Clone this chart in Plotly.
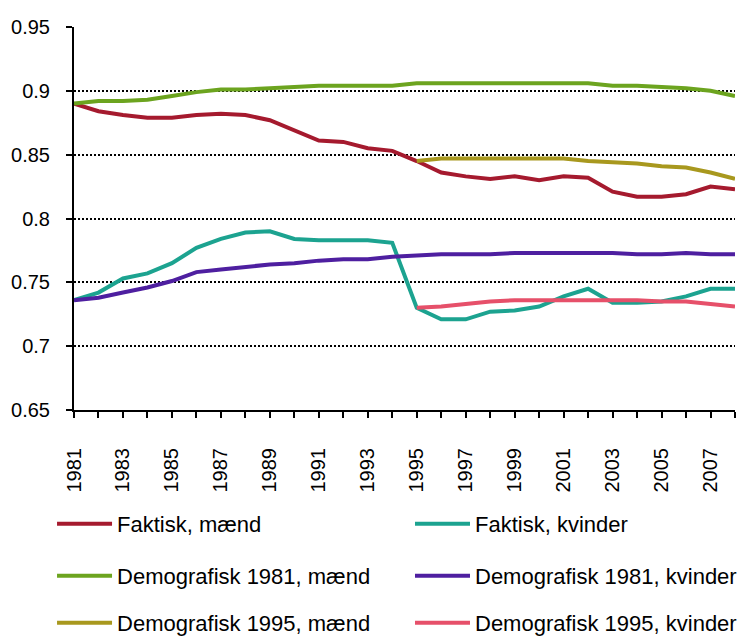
import plotly.graph_objects as go

years = list(range(1981, 2009))
years_1995 = list(range(1995, 2009))

faktisk_maend = [0.890, 0.884, 0.881, 0.879, 0.879, 0.881, 0.882, 0.881, 0.877, 0.869,
                 0.861, 0.860, 0.855, 0.853, 0.845, 0.836, 0.833, 0.831, 0.833, 0.830,
                 0.833, 0.832, 0.821, 0.817, 0.817, 0.819, 0.825, 0.823]
faktisk_kvinder = [0.736, 0.742, 0.753, 0.757, 0.765, 0.777, 0.784, 0.789, 0.790, 0.784,
                   0.783, 0.783, 0.783, 0.781, 0.730, 0.721, 0.721, 0.727, 0.728, 0.731,
                   0.739, 0.745, 0.734, 0.734, 0.735, 0.739, 0.745, 0.745]
demo1981_maend = [0.890, 0.892, 0.892, 0.893, 0.896, 0.899, 0.901, 0.901, 0.902, 0.903,
                  0.904, 0.904, 0.904, 0.904, 0.906, 0.906, 0.906, 0.906, 0.906, 0.906,
                  0.906, 0.906, 0.904, 0.904, 0.903, 0.902, 0.900, 0.896]
demo1981_kvinder = [0.736, 0.738, 0.742, 0.746, 0.751, 0.758, 0.760, 0.762, 0.764, 0.765,
                    0.767, 0.768, 0.768, 0.770, 0.771, 0.772, 0.772, 0.772, 0.773, 0.773,
                    0.773, 0.773, 0.773, 0.772, 0.772, 0.773, 0.772, 0.772]
demo1995_maend = [0.845, 0.847, 0.847, 0.847, 0.847, 0.847, 0.847, 0.845, 0.844, 0.843,
                  0.841, 0.840, 0.836, 0.831]
demo1995_kvinder = [0.730, 0.731, 0.733, 0.735, 0.736, 0.736, 0.736, 0.736, 0.736, 0.736,
                    0.735, 0.735, 0.733, 0.731]

y_tickvals = [0.65, 0.70, 0.75, 0.80, 0.85, 0.90, 0.95]
y_ticktext = ["0.65", "0.7", "0.75", "0.8", "0.85", "0.9", "0.95"]
x_tickvals = list(range(1981, 2008, 2))
x_ticktext = [str(y) for y in x_tickvals]

series = [
    ("Faktisk, mænd", years, faktisk_maend, "#A51A2E"),
    ("Faktisk, kvinder", years, faktisk_kvinder, "#1CA390"),
    ("Demografisk 1981, mænd", years, demo1981_maend, "#6CA41F"),
    ("Demografisk 1981, kvinder", years, demo1981_kvinder, "#4E1FA0"),
    ("Demografisk 1995, mænd", years_1995, demo1995_maend, "#A8981E"),
    ("Demografisk 1995, kvinder", years_1995, demo1995_kvinder, "#E6506A"),
]

FONT = "Liberation Sans, Arial, sans-serif"

# legend grid: 2 columns x 3 rows (container coordinates)
col_x = [0.0706, 0.5563]
row_y = [1 - 524 / 639, 1 - 576 / 639, 1 - 623 / 639]

fig = go.Figure()
legend_layouts = {}
for i, (name, x, y, color) in enumerate(series):
    key = "legend" if i == 0 else f"legend{i + 1}"
    fig.add_trace(go.Scatter(x=x, y=y, name=name, mode="lines", showlegend=True,
                             line=dict(color=color, width=4), legend=key))
    legend_layouts[key] = dict(
        xref="container", yref="container",
        x=col_x[i % 2], y=row_y[i // 2], xanchor="left", yanchor="middle",
        orientation="h", font=dict(family=FONT, size=22, color="black"),
        bgcolor="rgba(0,0,0,0)", itemwidth=55, itemclick=False,
    )

fig.update_layout(
    width=737, height=639,
    showlegend=True,
    margin=dict(l=74, r=2, t=27, b=229),
    plot_bgcolor="white", paper_bgcolor="white",
    font=dict(family=FONT, size=20, color="black"),
    xaxis=dict(range=[1981, 2008], tickvals=x_tickvals, ticktext=x_ticktext,
               tickangle=-90, ticks="outside", ticklen=6, tickwidth=1.5,
               tickcolor="black", showline=True, linecolor="black", linewidth=2,
               showgrid=False, zeroline=False,
               minor=dict(dtick=1, tick0=1981, ticks="outside", ticklen=6,
                          tickwidth=1.5, tickcolor="black", showgrid=False),
               tickfont=dict(family=FONT, size=20, color="black"),
               ticklabelstandoff=22),
    yaxis=dict(range=[0.65, 0.95], tickvals=y_tickvals, ticktext=y_ticktext,
               ticks="outside", ticklen=6, tickwidth=1.5, tickcolor="black",
               showline=True, linecolor="black", linewidth=2,
               showgrid=True, gridcolor="black", gridwidth=2, griddash="2px,2px",
               zeroline=False, ticklabelstandoff=12,
               tickfont=dict(family=FONT, size=20, color="black")),
    **legend_layouts,
)

fig.write_html("out.html", config={"displayModeBar": False},
               post_script="document.body.style.margin='0';document.body.style.overflow='hidden';")
